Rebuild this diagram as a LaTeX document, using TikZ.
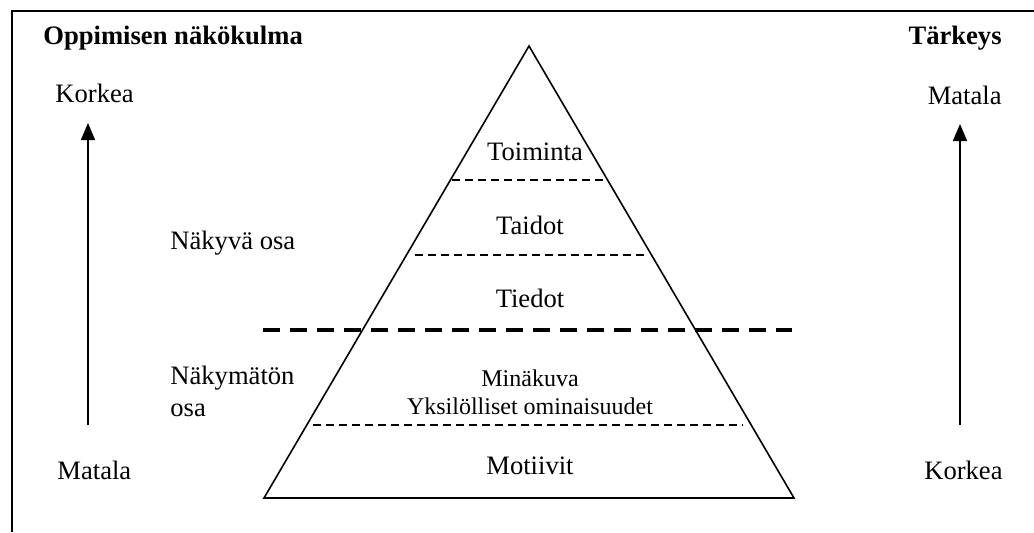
\documentclass[tikz,border=0pt]{standalone}
\usepackage{fontspec}
\setmainfont{Liberation Serif}
\usetikzlibrary{arrows.meta}

\begin{document}
\begin{tikzpicture}[x=0.5pt,y=-0.5pt,
  txt/.style={font=\fontsize{13.3}{16}\selectfont, inner sep=0pt},
  head/.style={font=\fontsize{13.3}{16}\selectfont\bfseries, inner sep=0pt},
  small/.style={font=\fontsize{12}{14}\selectfont, inner sep=0pt, align=center},
  level/.style={line width=0.6pt, dash pattern=on 4pt off 2.5pt},
  border/.style={line width=1.6pt, dash pattern=on 8.5pt off 5pt},
  scalearrow/.style={line width=0.8pt, -{Triangle[length=8.5pt,width=7pt]}}]

  \useasboundingbox (0,0) rectangle (1034,532);
  \draw[line width=1pt] (12,532) -- (12,11) -- (1034,11);

  % pyramid
  \coordinate (apex) at (529,46);
  \coordinate (baseL) at (264,498);
  \coordinate (baseR) at (794,498);
  \draw[line width=0.8pt, line join=miter] (baseL) -- (apex) -- (baseR) -- cycle;

  \coordinate (l1a) at (452,180);  \coordinate (l1b) at (603,180);
  \coordinate (l2a) at (415,255);  \coordinate (l2b) at (648,255);
  \coordinate (l3a) at (313,425);  \coordinate (l3b) at (743,425);
  \coordinate (ba) at (263,330);   \coordinate (bb) at (792,330);
  \draw[level] (l1a) -- (l1b);
  \draw[level] (l2a) -- (l2b);
  \draw[level] (l3a) -- (l3b);
  \draw[border] (ba) -- (bb);

  \node[txt] (toim) at (535,152) {Toiminta};
  \node[txt] (taid) at (530,225) {Taidot};
  \node[txt] (tied) at (530,298) {Tiedot};
  \node[small] (mina) at (530,392) {Minäkuva\\Yksilölliset ominaisuudet};
  \node[txt] (moti) at (530,466) {Motiivit};

  % left side
  \node[head, anchor=west] (oppi) at (43,38) {Oppimisen näkökulma};
  \node[txt, anchor=west] (korkL) at (55,93) {Korkea};
  \node[txt, anchor=west] (matL) at (57,470) {Matala};
  \node[txt, anchor=west] (nakyva) at (170,243) {Näkyvä osa};
  \node[txt, anchor=west, align=left] (nakym) at (170,391) {Näkymätön\\osa};
  \coordinate (aL0) at (88,425);
  \coordinate (aL1) at (88,123);
  \draw[scalearrow] (aL0) -- (aL1);

  % right side
  \node[head, anchor=east] (tark) at (1002,38) {Tärkeys};
  \node[txt, anchor=east] (matR) at (1002,95) {Matala};
  \node[txt, anchor=east] (korkR) at (1003,470) {Korkea};
  \coordinate (aR0) at (960,425);
  \coordinate (aR1) at (960,124);
  \draw[scalearrow] (aR0) -- (aR1);
\end{tikzpicture}
\end{document}
